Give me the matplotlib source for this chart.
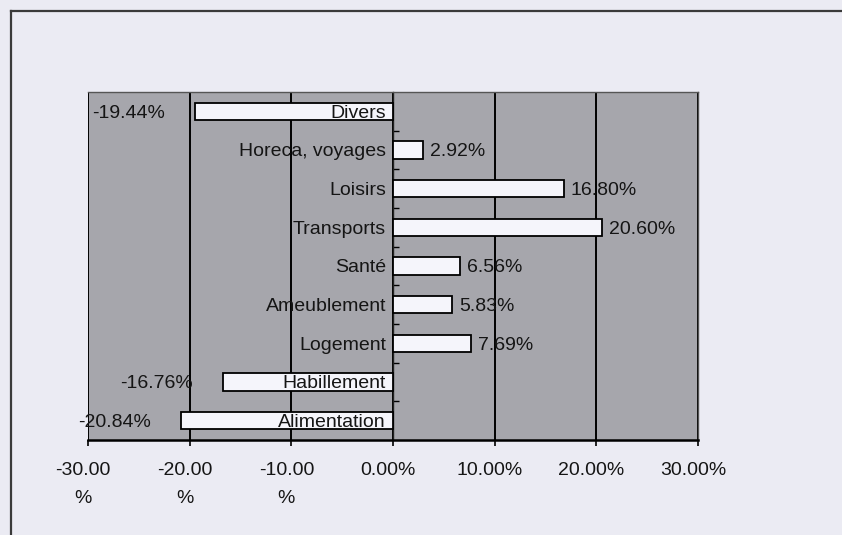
import numpy as np
import matplotlib
matplotlib.use("Agg")
import matplotlib.pyplot as plt
import matplotlib.transforms as mtransforms
from matplotlib.lines import Line2D

# Data, bottom to top as drawn
categories = ["Alimentation", "Habillement", "Logement", "Ameublement", "Santé",
              "Transports", "Loisirs", "Horeca, voyages", "Divers"]
values = [-20.84, -16.76, 7.69, 5.83, 6.56, 20.60, 16.80, 2.92, -19.44]
xticks = [-30, -20, -10, 0, 10, 20, 30]
xticklabels = ["-30.00\n%", "-20.00\n%", "-10.00\n%", "0.00%", "10.00%", "20.00%", "30.00%"]

plt.rcParams['font.family'] = ['Liberation Sans', 'DejaVu Sans']
txtcol = '#151515'

fig = plt.figure(figsize=(8.42, 5.35), dpi=100, facecolor='#ebebf3')
ax = fig.add_axes([88 / 842, 1 - 440 / 535, 610 / 842, 348 / 535])
ax.set_facecolor('#a6a6ac')

y = np.arange(len(categories))
ax.barh(y, values, height=0.44, color='#f5f5fb', edgecolor='black', linewidth=1.3, zorder=3)

ax.set_xlim(-30, 30)
ax.set_ylim(-0.5, len(categories) - 0.5)

# vertical gridlines
ax.set_xticks(xticks)
ax.set_xticklabels(xticklabels, fontsize=14, color=txtcol, linespacing=1.8)
ax.xaxis.grid(True, color='black', linewidth=1.4)
ax.set_axisbelow(True)
ax.tick_params(axis='x', direction='out', length=4, width=1.2, pad=12)
shift = mtransforms.ScaledTranslation(-5 / 100, 0, fig.dpi_scale_trans)
for lab in ax.get_xticklabels():
    lab.set_transform(lab.get_transform() + shift)

# category axis sits on zero
ax.spines['left'].set_position(('data', 0))
ax.spines['left'].set_color('#222222')
ax.spines['left'].set_linewidth(1.0)
ax.set_yticks(y)
ax.set_yticklabels([])
ax.set_yticks(np.arange(len(categories) - 1) + 0.5, minor=True)
ax.tick_params(axis='y', which='major', length=0)
ax.tick_params(axis='y', which='minor', direction='in', length=4, width=1.0, color='black')

# category names drawn on top of the bars, just left of zero
for yi, name in zip(y, categories):
    ax.annotate(name, (0, yi), xytext=(-7, -2), textcoords='offset pixels',
                ha='right', va='center', fontsize=14, color=txtcol, zorder=6)

ax.spines['bottom'].set_color('black')
ax.spines['bottom'].set_linewidth(1.8)
for s in ['top', 'right']:
    ax.spines[s].set_color('#555555')
    ax.spines[s].set_linewidth(1.0)

# value labels
for yi, v in zip(y, values):
    if v >= 0:
        ax.annotate(f"{v:.2f}%", (v, yi), xytext=(7, -2), textcoords='offset pixels',
                    ha='left', va='center', fontsize=14, color=txtcol, zorder=5)
    else:
        ax.annotate(f"{v:.2f}%", (v, yi), xytext=(-30, -2), textcoords='offset pixels',
                    ha='right', va='center', fontsize=14, color=txtcol, zorder=5)

# outer frame (left and top edges visible)
fig.add_artist(Line2D([11 / 842, 11 / 842], [0, 1 - 11 / 535], transform=fig.transFigure,
                      color='#3a3a3a', linewidth=1.6))
fig.add_artist(Line2D([11 / 842, 1], [1 - 11 / 535, 1 - 11 / 535], transform=fig.transFigure,
                      color='#3a3a3a', linewidth=1.6))

fig.savefig("out.png", dpi=100, facecolor=fig.get_facecolor())
